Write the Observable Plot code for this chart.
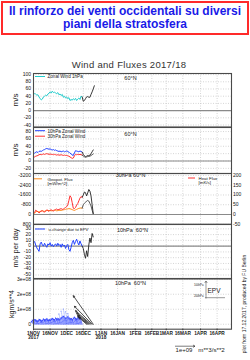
<!DOCTYPE html>
<html>
<head>
<meta charset="utf-8">
<script src="https://cdn.jsdelivr.net/npm/d3@7"></script>
<script src="https://cdn.jsdelivr.net/npm/@observablehq/plot@0.6"></script>
<style>
html,body{margin:0;padding:0;background:#fff;}
#wrap{position:relative;width:250px;height:360px;overflow:hidden;font-family:"Liberation Sans",Arial,sans-serif;}
#headline{position:absolute;left:1px;top:1px;width:244px;height:30px;border:2px solid #ff2a2a;color:#1a1ae8;font-size:12px;font-weight:bold;line-height:13.3px;text-align:center;display:flex;flex-direction:column;justify-content:center;}
#subtitle{position:absolute;left:0;top:59px;width:258px;text-align:center;font-size:9.5px;line-height:11px;color:#333;letter-spacing:0.3px;}
#wrap svg{position:absolute;left:0;}
.rot{position:absolute;white-space:nowrap;color:#222;transform:translate(-50%,-50%) rotate(-90deg);line-height:1;}
.tk{position:absolute;white-space:nowrap;color:#111;font-size:5px;line-height:1;z-index:5;}
.tkl{transform:translate(-100%,-50%);}
.tkr{transform:translate(0,-50%);}
</style>
</head>
<body>
<div id="wrap">
  <div id="headline"><div>Il rinforzo dei venti occidentali su diversi</div><div>piani della stratosfera</div></div>
  <div id="subtitle">Wind and Fluxes 2017/18</div>
</div>
<script>
// ---------- data ----------
const startDate = "2017-11-01";          // first day of the observed series
const endDate = "2018-04-29";            // end of the time axis
const xTickDates = ["2017-11-01","2017-11-16","2017-12-01","2017-12-16","2018-01-01","2018-01-16","2018-02-01","2018-02-16","2018-03-01","2018-03-16","2018-04-01","2018-04-16"];
const xTickLabels = ["1NOV\n2017","16NOV","1DEC","16DEC","1JAN\n2018","16JAN","1FEB","16FEB","1MAR","16MAR","1APR","16APR"];
const forecastStartDay = 44;             // day index where the black (forecast) lines begin

// Panel 1: zonal wind 1hPa (m/s)
const wind1hPa = [48,47,46,43,44,38,33,30,32,38,40,43,41,46,48,52,49,54,50,51,49,47,50,44,46,42,45,37,40,35,38,33,36,28,31,29,33,30,34,28,32,35,31,40,38];
const wind1hPaFc = [38,26,28,33,38,39,37,37,45,52,60,69];
const p1Ticks = [100,80,60,40,20,0,-20,-40];

// Panel 2: zonal wind 10hPa and 30hPa (m/s)
const wind10hPa = [22,21,24,25,23,26,27,26,28,30,31,33,34,33,32,33,31,30,31,29,30,28,27,26,27,25,26,27,25,26,27,26,24,21,20,16,15,22,28,27,26,25,27,26,24];
const wind30hPa = [10,11,13,14,15,17,18,17,18,19,18,19,20,19,18,19,18,18,17,18,17,16,17,16,16,17,16,15,16,15,15,14,13,11,9,7,8,14,18,17,18,17,18,17,16];
const wind10hPaFc = [24,18,14,12,13,15,14,16,20,25,30];
const wind30hPaFc = [16,14,11,10,11,12,13,13,15,17,19];
const p2Ticks = [80,60,40,20,0,-20];

// Panel 3: 30hPa geopotential flux (mW/m^2, left, inverted) and heat flux (mK/s, right)
const geopotFlux = [-50,-120,-200,-260,-240,-200,-250,-280,-300,-280,-260,-300,-320,-340,-310,-330,-300,-320,-340,-360,-330,-300,-320,-350,-340,-330,-360,-380,-400,-420,-440,-460,-480,-470,-440,-400,-360,-330,-380,-420,-460,-500,-520,-540,-520];
const geopotFluxFc = [-520,-800,-900,-1000,-1100,-1150,-1100,-900,-700,-350,-50];
const heatFlux = [4,10,22,18,14,8,12,18,20,14,12,18,24,20,16,22,24,20,18,22,26,28,24,26,28,30,26,28,32,36,40,50,72,96,88,60,32,30,36,48,56,70,84,92,88];
const heatFluxFc = [88,100,115,112,95,110,128,120,95,50,5];
const p3Ticks = [-3200,-2400,-1600,-800,0,800];
const p3RightTicks = [200,150,100,50,0,-50];
const heatToGeo = -16;   // right axis unit -> left axis unit

// Panel 4: u-change due to EPV (m/s per day)
const uChange = [6,8,2,-3,-6,-9,4,7,2,0,5,1,-2,4,2,6,0,3,-1,2,4,0,5,1,3,-2,4,0,2,-4,1,3,-6,-9,-2,6,10,3,8,12,6,2,9,4,0];
const uChangeFc = [0,-4,-14,-21,-8,-18,2,14,6,22,16];
const p4Ticks = [30,20,10,0,-10,-20,-30,-40,-50];

// Panel 5: EP-flux vectors (units of 1e+08)
const epvHeights = [0.20,0.28,0.25,0.32,0.30,0.22,0.26,0.34,0.30,0.24,0.28,0.36,0.30,0.33,0.38,0.28,0.32,0.30,0.36,0.40,0.35,0.32,0.42,0.36,0.40,0.34,0.38,0.45,0.50,0.55,0.48,0.42,0.46,0.52,0.44,0.38,0.40,0.32,0.42,0.48,0.40,0.36,0.44,0.50,0.46];
const epvShift = -2;                       // days, horizontal component of blue vectors
const epvTallDays = [25,27,29,31,33];
const epvTallHeights = [0.7,0.9,1.05,0.85,0.75];
const epvFcTailDays = [48,49,50,51,52,53,54];
const epvFcHeadDays = [41,40,40,39,38,37,36];
const epvFcHeights = [0.45,0.55,0.6,0.75,0.9,1.2,1.9];
const p5Ticks = [0,1,2,3];
const p5TickLabels = ["0","1e+08","2e+08","3e+08"];

// axis titles
const yTitles = ["m/s", "m/s", "m/s per day", "kgm/s**4"];
const sideNote = "plot from 17.12.2017, produced by FU Berlin";

// ---------- helpers ----------
const DAY = 864e5;
const t0 = new Date(startDate + "T00:00Z").getTime();
const dayDate = d => new Date(t0 + d * DAY);
const series = (vals, first) => vals.map((v, i) => ({date: dayDate(first + i), v}));
const xDomain = [new Date(startDate + "T00:00Z"), new Date(endDate + "T00:00Z")];
const xTicks = xTickDates.map(s => new Date(s + "T00:00Z"));
const xLabelMap = new Map(xTicks.map((d, i) => [+d, xTickLabels[i]]));
const FONT = "Liberation Sans, Arial, sans-serif";
const wrap = document.getElementById("wrap");
const ML = 33, MR = 19, W = 250;

const gridStyle = {stroke: "#b8b8b8", strokeWidth: 0.6, strokeDasharray: "1,1.5"};

function swatch(color, x0, x1, y) {
  return (index, scales, values, dim) => {
    const l = d3.create("svg:line")
      .attr("x1", dim.marginLeft + x0).attr("x2", dim.marginLeft + x1)
      .attr("y1", dim.marginTop + y).attr("y2", dim.marginTop + y)
      .attr("stroke", color).attr("stroke-width", 1);
    return l.node();
  };
}
function label(text, anchor, dx, dy, size, extra = {}) {
  return Plot.text([text], {frameAnchor: anchor, dx, dy, fontSize: size, lineAnchor: "middle", fill: "#222", ...extra});
}
function rotLabel(text, cx, cy, size) {
  const d = document.createElement("div");
  d.className = "rot";
  d.style.left = cx + "px"; d.style.top = cy + "px"; d.style.fontSize = size + "px";
  d.textContent = text;
  wrap.appendChild(d);
}
// tick labels placed with the plot's own y scale
function tickLabels(svg, top, ticks, fmt, side, toY = d => d) {
  const ys = svg.scale("y");
  ticks.forEach((t, i) => {
    const d = document.createElement("div");
    d.className = "tk " + (side === "left" ? "tkl" : "tkr");
    d.style.left = (side === "left" ? ML - 2 : W - MR + 2) + "px";
    d.style.top = (top + ys.apply(toY(t))) + "px";
    d.textContent = fmt(t, i);
    wrap.appendChild(d);
  });
}

function panel({frameTop, frameBottom, yDomain, yTicks, yFormat, marks, mt = 6, mb = 6, zero = true}) {
  const h = frameBottom - frameTop + mt + mb;
  const svg = Plot.plot({
    width: W, height: h,
    marginLeft: ML, marginRight: MR, marginTop: mt, marginBottom: mb,
    style: {background: "transparent", overflow: "visible", fontFamily: FONT},
    x: {type: "utc", domain: xDomain, axis: null, label: null},
    y: {domain: yDomain, axis: null, label: null},
    marks: [
      Plot.ruleX(xTicks, gridStyle),
      Plot.ruleY(yTicks, gridStyle),
      zero ? Plot.ruleY([0], {stroke: "#8a8a8a", strokeWidth: 1.2}) : null,
      ...marks,
      Plot.frame({stroke: "#4a4a4a", strokeWidth: 1.1})
    ]
  });
  const top = frameTop - mt;
  svg.style.top = top + "px";
  wrap.appendChild(svg);
  tickLabels(svg, top, yTicks, yFormat || (d => String(d)), "left");
  return {svg, top};
}

// ---------- Panel 1 ----------
panel({
  frameTop: 73, frameBottom: 126.5, yDomain: [-45.5, 103], yTicks: p1Ticks,
  marks: [
    Plot.line(series(wind1hPa, 0), {x: "date", y: "v", stroke: "#22cccc", strokeWidth: 1}),
    Plot.line(series(wind1hPaFc, forecastStartDay), {x: "date", y: "v", stroke: "#222", strokeWidth: 0.9}),
    swatch("#22cccc", 2, 12, 3.5),
    label("Zonal Wind 1hPa", "top-left", 14, 3.5, 4.6, {textAnchor: "start"}),
    label("60°N", "top", -2, 4.3, 5.5)
  ]
});

// ---------- Panel 2 ----------
panel({
  frameTop: 127, frameBottom: 173, yDomain: [-34, 91], yTicks: p2Ticks,
  marks: [
    Plot.line(series(wind30hPa, 0), {x: "date", y: "v", stroke: "#ff3030", strokeWidth: 1}),
    Plot.line(series(wind10hPa, 0), {x: "date", y: "v", stroke: "#2040ff", strokeWidth: 1}),
    Plot.line(series(wind10hPaFc, forecastStartDay), {x: "date", y: "v", stroke: "#222", strokeWidth: 0.9}),
    Plot.line(series(wind30hPaFc, forecastStartDay), {x: "date", y: "v", stroke: "#444", strokeWidth: 0.9}),
    swatch("#2040ff", 2, 12, 3.7),
    label("10hPa Zonal Wind", "top-left", 14, 3.7, 4.6, {textAnchor: "start"}),
    swatch("#ff3030", 2, 12, 9.2),
    label("30hPa Zonal Wind", "top-left", 14, 9.2, 4.6, {textAnchor: "start"}),
    label("60°N", "top", -2, 6.5, 5.5)
  ]
});

// ---------- Panel 3 ----------
const p3 = panel({
  frameTop: 173, frameBottom: 223.75, yDomain: [800, -3360], yTicks: p3Ticks,
  marks: [
    Plot.line(series(geopotFlux, 0), {x: "date", y: "v", stroke: "#ff8c1a", strokeWidth: 1}),
    Plot.line(series(heatFlux, 0), {x: "date", y: d => d.v * heatToGeo, stroke: "#ff3030", strokeWidth: 1}),
    Plot.line(series(geopotFluxFc, forecastStartDay), {x: "date", y: "v", stroke: "#444", strokeWidth: 0.9}),
    Plot.line(series(heatFluxFc, forecastStartDay), {x: "date", y: d => d.v * heatToGeo, stroke: "#222", strokeWidth: 0.9}),
    swatch("#ff8c1a", 1, 9, 5.8),
    label("Geopot. Flux", "top-left", 14, 5.8, 4.4, {textAnchor: "start"}),
    label("[mW/m^2]", "top-left", 14, 10, 4.4, {textAnchor: "start"}),
    swatch("#ff3030", 155, 162, 5),
    label("Heat Flux", "top-left", 165, 5, 4.4, {textAnchor: "start"}),
    label("[mK/s]", "top-left", 165, 9.3, 4.4, {textAnchor: "start"}),
    label("30hPa 60°N", "top", -2, 2.2, 5.5)
  ]
});
tickLabels(p3.svg, p3.top, p3RightTicks, d => String(d), "right", d => d * heatToGeo);

// ---------- Panel 4 ----------
panel({
  frameTop: 223.75, frameBottom: 278.3, yDomain: [-57, 37.5], yTicks: p4Ticks,
  marks: [
    Plot.line(series(uChange, 0), {x: "date", y: "v", stroke: "#2040ff", strokeWidth: 1}),
    Plot.line(series(uChangeFc, forecastStartDay), {x: "date", y: "v", stroke: "#222", strokeWidth: 0.9}),
    swatch("#2040ff", 2, 12, 5),
    label("u-change due to EPV", "top-left", 15, 5, 4.2, {textAnchor: "start"}),
    label("10hPa  60°N", "top", 0, 6, 5.5)
  ]
});

// ---------- Panel 5 ----------
const epvBlue = epvHeights.map((v, i) => ({x1: dayDate(i), y1: 0, x2: dayDate(i + epvShift), y2: v}));
const epvTall = epvTallDays.map((d, i) => ({x1: dayDate(d), y1: 0, x2: dayDate(d + epvShift), y2: epvTallHeights[i]}));
const epvBlack = epvFcTailDays.map((d, i) => ({x1: dayDate(d), y1: 0, x2: dayDate(epvFcHeadDays[i]), y2: epvFcHeights[i]}));

function epvInset(index, scales, values, dim) {
  const g = d3.create("svg:g").attr("font-family", FONT).attr("fill", "#222");
  const R = dim.width - dim.marginRight, T = dim.marginTop;
  g.append("line").attr("x1", R - 25).attr("x2", R - 25).attr("y1", T + 20.5).attr("y2", T + 3).attr("stroke", "#333").attr("stroke-width", 0.5);
  g.append("path").attr("d", `M${R-26.3},${T+5} L${R-25},${T+3} L${R-23.7},${T+5}`).attr("fill", "none").attr("stroke", "#333").attr("stroke-width", 0.5);
  g.append("line").attr("x1", R - 26).attr("x2", R - 6).attr("y1", T + 19.7).attr("y2", T + 19.7).attr("stroke", "#333").attr("stroke-width", 0.5);
  g.append("text").attr("x", R - 17).attr("y", T + 15.5).attr("font-size", 6.5).attr("text-anchor", "middle").text("EPV");
  g.append("text").attr("x", R - 27.5).attr("y", T + 8.5).attr("font-size", 2.8).attr("text-anchor", "end").text("100hPa");
  g.append("text").attr("x", R - 27.5).attr("y", T + 19).attr("font-size", 2.8).attr("text-anchor", "end").text("200hPa");
  return g.node();
}
function refArrow(index, scales, values, dim) {
  const R = dim.width - dim.marginRight, B = dim.height - dim.marginBottom;
  const g = d3.create("svg:g");
  g.append("line").attr("x1", R - 56).attr("x2", R - 36).attr("y1", B + 17.5).attr("y2", B + 17.5).attr("stroke", "#222").attr("stroke-width", 0.6);
  g.append("path").attr("d", `M${R-38},${B+16.3} L${R-36},${B+17.5} L${R-38},${B+18.7}`).attr("fill", "none").attr("stroke", "#222").attr("stroke-width", 0.6);
  return g.node();
}

panel({
  frameTop: 278.3, frameBottom: 329, yDomain: [-0.33, 3.05], yTicks: p5Ticks, mb: 31, zero: false,
  yFormat: (d, i) => p5TickLabels[i],
  marks: [
    Plot.axisX(xTicks, {anchor: "bottom", tickSize: 1.5, tickPadding: 1, fontSize: 4.8, fontWeight: "bold", fill: "#222", lineHeight: 0.95,
      label: null, tickFormat: d => xLabelMap.get(+d)}),
    Plot.arrow(epvBlue, {x1: "x1", y1: "y1", x2: "x2", y2: "y2", stroke: "#2a3cff", strokeWidth: 0.7, headLength: 2, inset: 0}),
    Plot.arrow(epvTall, {x1: "x1", y1: "y1", x2: "x2", y2: "y2", stroke: "#8aa0ff", strokeWidth: 0.6, strokeDasharray: "1,1", headLength: 2.2, inset: 0}),
    Plot.arrow(epvBlack, {x1: "x1", y1: "y1", x2: "x2", y2: "y2", stroke: "#222", strokeWidth: 0.8, headLength: 3, inset: 0}),
    label("10hPa  60°N", "top", -2, 5, 5.5),
    label("1e+09", "bottom-right", -47.5, 21, 6, {textAnchor: "middle"}),
    label("m**3/s**2", "bottom-right", -20, 21, 6.2, {textAnchor: "middle"}),
    epvInset,
    refArrow
  ]
});

// rotated axis titles and side note (HTML text)
rotLabel(yTitles[0], 15.5, 99.7, 8);
rotLabel(yTitles[1], 15.5, 150, 8);
rotLabel(yTitles[2], 15.5, 248, 7.5);
rotLabel(yTitles[3], 11, 303.6, 7);
rotLabel(sideNote, 244, 303.6, 5);
</script>
</body>
</html>
